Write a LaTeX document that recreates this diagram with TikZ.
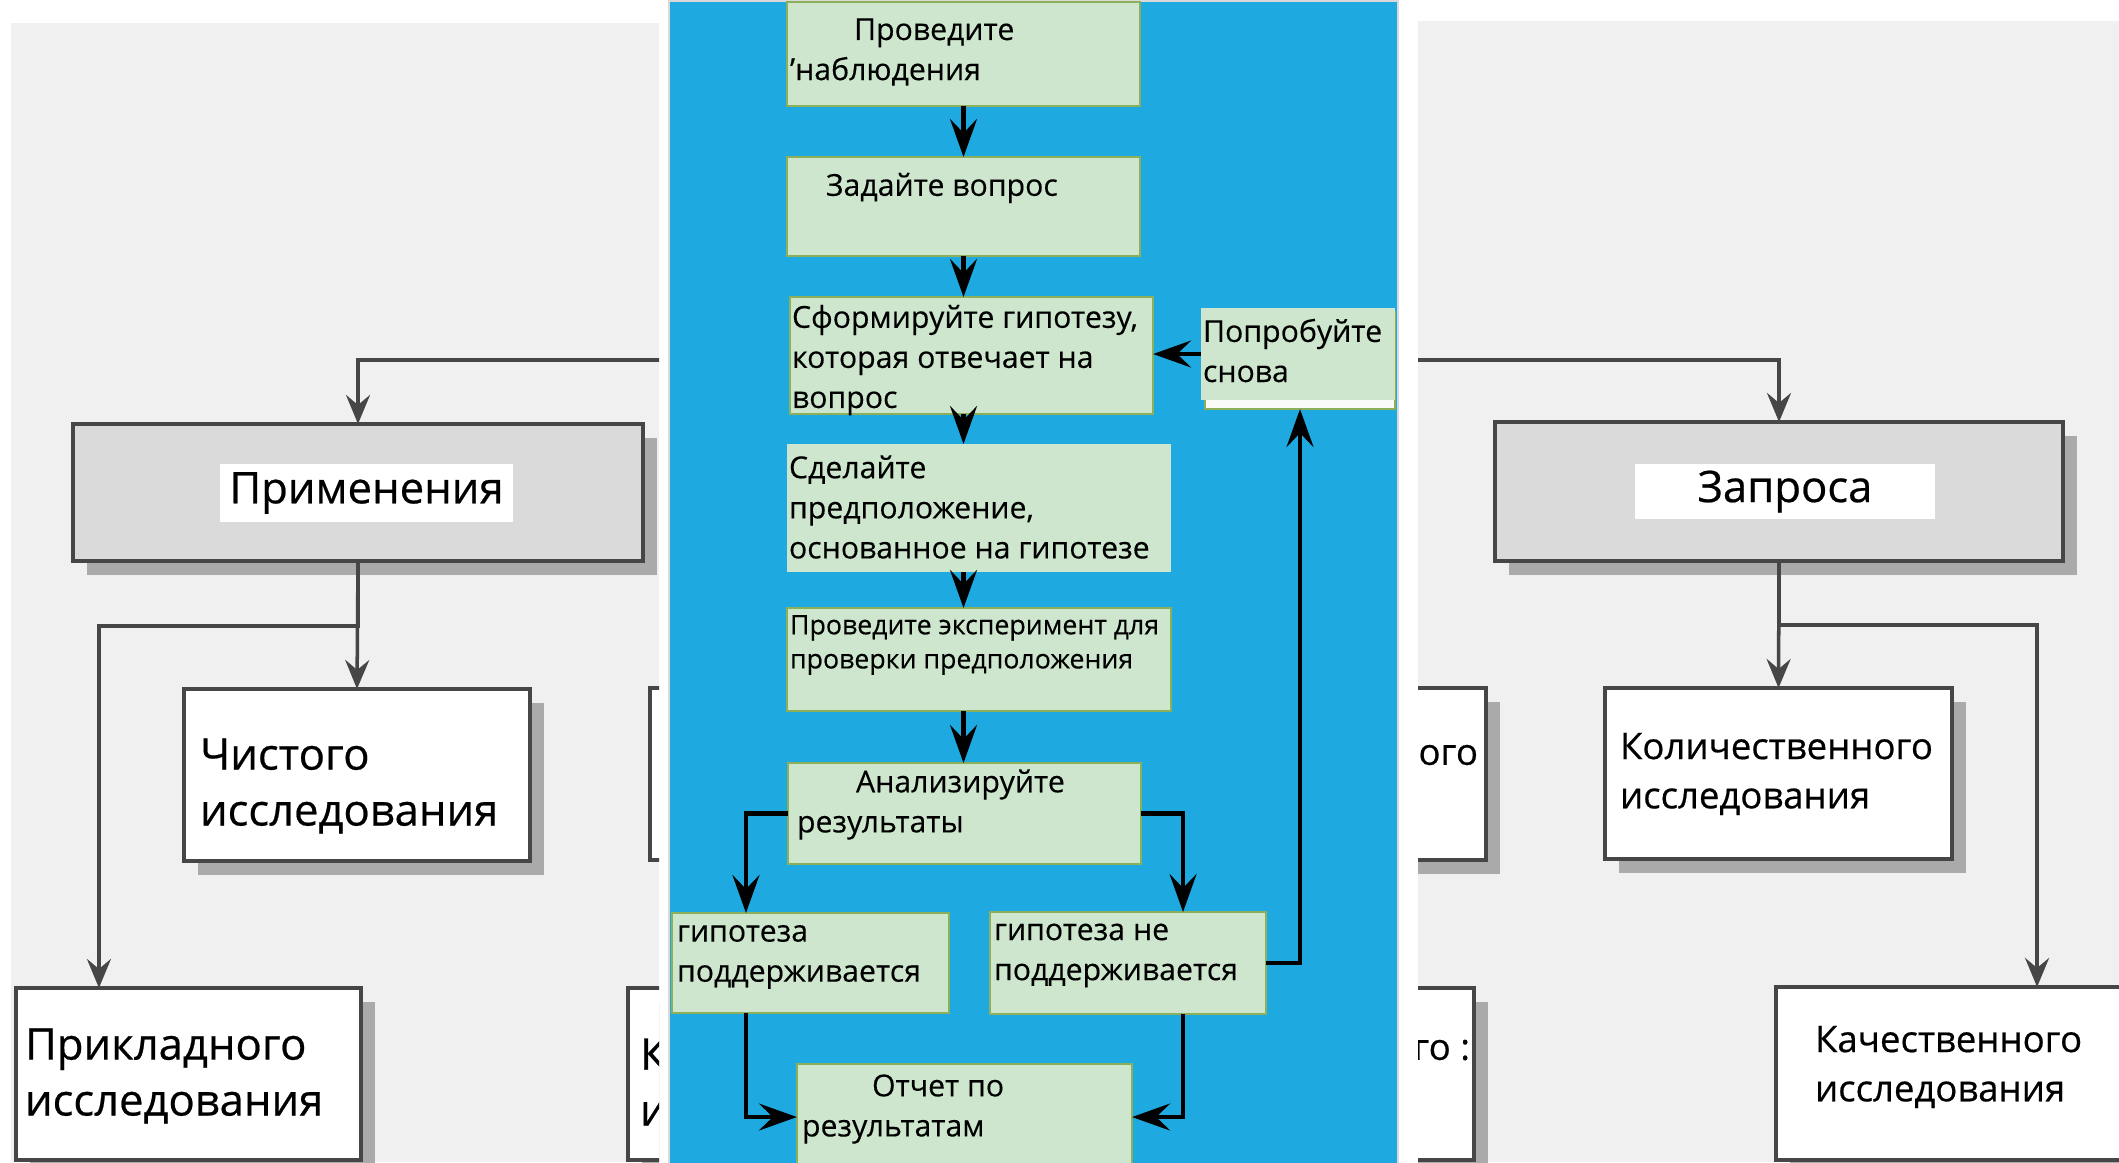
\documentclass[tikz,border=0pt]{standalone}
\usepackage{fontspec}
\setmainfont{Open Sans}
\usetikzlibrary{positioning,arrows.meta,shadows}
\definecolor{panelblue}{RGB}{30,170,225}
\definecolor{stepgreen}{RGB}{205,230,205}
\definecolor{stepedge}{RGB}{140,175,90}
\definecolor{pagegrey}{RGB}{240,240,240}
\definecolor{scanline}{RGB}{70,70,70}
\definecolor{scanfill}{RGB}{218,218,218}
\definecolor{shadowgrey}{RGB}{170,170,170}

\begin{document}
\begin{tikzpicture}[x=0.01cm, y=-0.01cm,
  every node/.style={inner sep=0pt, outer sep=0pt},
  stepbox/.style={draw=stepedge, fill=stepgreen, line width=0.5pt},
  steptext/.style={anchor=west, align=left, font=\fontsize{8.6}{11.4}\selectfont\addfontfeature{FakeBold=0.3}},
  flow/.style={-{Stealth[length=3.8mm, width=2.7mm, inset=1.4mm]}, line width=1.2pt, black},
  scanbox/.style={draw=scanline, line width=1.1pt, fill=white, drop shadow={shadow xshift=1.4mm, shadow yshift=-1.4mm, fill=shadowgrey, opacity=1}},
  bigbox/.style={scanbox, fill=scanfill},
  scantext/.style={anchor=west, align=left, font=\fontsize{12.4}{15.9}\selectfont\addfontfeature{FakeBold=0.5}},
  smalltext/.style={anchor=west, align=left, font=\fontsize{10.4}{14}\selectfont\addfontfeature{FakeBold=0.5}},
  scan/.style={-{Stealth[length=2.9mm, width=2.4mm, inset=1mm]}, line width=1pt, scanline},
]
\fill[white] (0,0) rectangle (2119,1162);
\useasboundingbox (0,0) rectangle (2119,1162);
\clip (0,0) rectangle (2119,1162);

% left page
\begin{scope}
\clip (11,23) rectangle (659,1162);
\fill[pagegrey] (11,23) rectangle (659,1162);
\coordinate (lin) at (700,360);
\node[bigbox, minimum width=5.70cm, minimum height=1.37cm] (appl) at (358,492.5) {};
\node[fill=white, minimum width=2.93cm, minimum height=0.58cm, font=\fontsize{12.4}{14}\selectfont\addfontfeature{FakeBold=0.5}] (appllab) at (366.5,493) {Применения};
\node[scanbox, minimum width=3.46cm, minimum height=1.72cm] (pure) at (357,775) {};
\node[scantext] (puret) at (200,786) {Чистого\\исследования};
\node[scanbox, minimum width=3.45cm, minimum height=1.72cm] (applied) at (188.5,1074) {};
\node[scantext] (appliedt) at (25,1076) {Прикладного\\исследования};
\node[scanbox, minimum width=3.47cm, minimum height=1.72cm] (midA) at (823.5,774) {};
\node[scanbox, minimum width=3.45cm, minimum height=1.72cm] (midB) at (800.5,1074) {};
\node[scantext] (midBt) at (640,1082) {К\\и};
\draw[scan] (lin) -| (appl.north);
\draw[scan] (appl.south) -- (pure.north);
\draw[scan] (appl.south) -- ++(0,65) -| ([xshift=-8.95mm]applied.north);
\end{scope}

% right page
\begin{scope}
\clip (1418,21) rectangle (2119,1162);
\fill[pagegrey] (1418,21) rectangle (2119,1162);
\coordinate (rin) at (1380,360);
\node[bigbox, minimum width=5.68cm, minimum height=1.39cm] (inq) at (1779,491.5) {};
\node[fill=white, minimum width=3.0cm, minimum height=0.55cm, font=\fontsize{12.4}{14}\selectfont\addfontfeature{FakeBold=0.5}] (inqlab) at (1785,491.5) {Запроса};
\node[scanbox, minimum width=3.47cm, minimum height=1.71cm] (quant) at (1778.5,773.5) {};
\node[smalltext] (quantt) at (1620,774) {Количественного\\исследования};
\node[scanbox, minimum width=3.47cm, minimum height=1.73cm] (qual) at (1949.5,1073.5) {};
\node[smalltext] (qualt) at (1815,1067) {Качественного\\исследования};
\node[scanbox, minimum width=3.47cm, minimum height=1.72cm] (midC) at (1312.5,774) {};
\node[smalltext, anchor=east] (midCt) at (1478,755) {ого};
\node[scanbox, minimum width=3.47cm, minimum height=1.72cm] (midD) at (1300.5,1074) {};
\node[smalltext, anchor=east] (midDt) at (1470,1050) {го :};
\draw[scan] (rin) -| (inq.north);
\draw[scan] (inq.south) -- (quant.north);
\draw[scan] (inq.south) -- ++(0,64) -| ([xshift=8.75mm]qual.north);
\end{scope}

% blue panel
\draw[fill=panelblue, draw=gray!30, line width=0.4pt] (669,1) rectangle (1398,1170);

% steps
\node[stepbox, minimum width=3.53cm, minimum height=1.04cm] (obs) at (963.5,54) {};
\node[steptext] (obst) at (790,52) {\hspace*{6.4mm}Проведите\\'наблюдения};
\node[stepbox, minimum width=3.53cm, minimum height=0.99cm] (ask) at (963.5,206.5) {};
\node[steptext] (askt) at (826,188) {Задайте вопрос};
\node[stepbox, minimum width=3.63cm, minimum height=1.17cm] (hyp) at (971.5,355.5) {};
\node[steptext] (hypt) at (792,360) {Сформируйте гипотезу,\\которая отвечает на\\вопрос};
\node[stepbox, fill=white!85!stepgreen, minimum width=1.90cm, minimum height=0.97cm] (retrysh) at (1300,360.5) {};
\node[stepbox, draw=none, minimum width=1.94cm, minimum height=0.92cm] (retry) at (1298,354) {};
\node[steptext] (retryt) at (1203,350.5) {Попробуйте\\снова};
\node[stepbox, draw=none, minimum width=3.84cm, minimum height=1.28cm] (pred) at (979,508) {};
\node[steptext] (predt) at (789,507) {Сделайте\\предположение,\\основанное на гипотезе};
\node[stepbox, minimum width=3.84cm, minimum height=1.03cm] (exp) at (979,659.5) {};
\node[steptext, font=\fontsize{7.6}{9.7}\selectfont\addfontfeature{FakeBold=0.3}] (expt) at (790,645) {Проведите эксперимент для\\проверки предположения};
\node[stepbox, minimum width=3.53cm, minimum height=1.01cm] (anal) at (964.5,813.5) {};
\node[steptext] (analt) at (797,804.5) {\hspace*{5.9mm}Анализируйте\\результаты};
\node[stepbox, minimum width=2.77cm, minimum height=1.00cm] (yes) at (810.5,963) {};
\node[steptext] (yest) at (677,957) {гипотеза\\поддерживается};
\node[stepbox, minimum width=2.76cm, minimum height=1.02cm] (no) at (1128,963) {};
\node[steptext] (not) at (994,955.5) {гипотеза не\\поддерживается};
\node[stepbox, minimum width=3.35cm, minimum height=1.06cm] (report) at (964.5,1117) {};
\node[steptext] (reportt) at (802,1109) {\hspace*{7mm}Отчет по\\результатам};

% arrows
\draw[flow] (obs.south) -- (ask.north);
\draw[flow] (ask.south) -- (ask.south |- hyp.north);
\draw[flow] (ask.south |- hyp.south) -- (ask.south |- pred.north);
\draw[flow] (ask.south |- pred.south) -- (ask.south |- exp.north);
\draw[flow] (ask.south |- exp.south) -- (ask.south |- anal.north);
\draw[flow] (retry.west) -- (retry.west -| hyp.east);
\draw[flow] (anal.west) -| ([xshift=-6.45mm]yes.north);
\draw[flow] (anal.east) -| ([xshift=5.5mm]no.north);
\draw[flow] ([xshift=-6.45mm]yes.south) |- (report.west);
\draw[flow] ([xshift=5.5mm]no.south) |- (report.east);
\draw[flow] (no.east) -| (retrysh.south);
\end{tikzpicture}
\end{document}
